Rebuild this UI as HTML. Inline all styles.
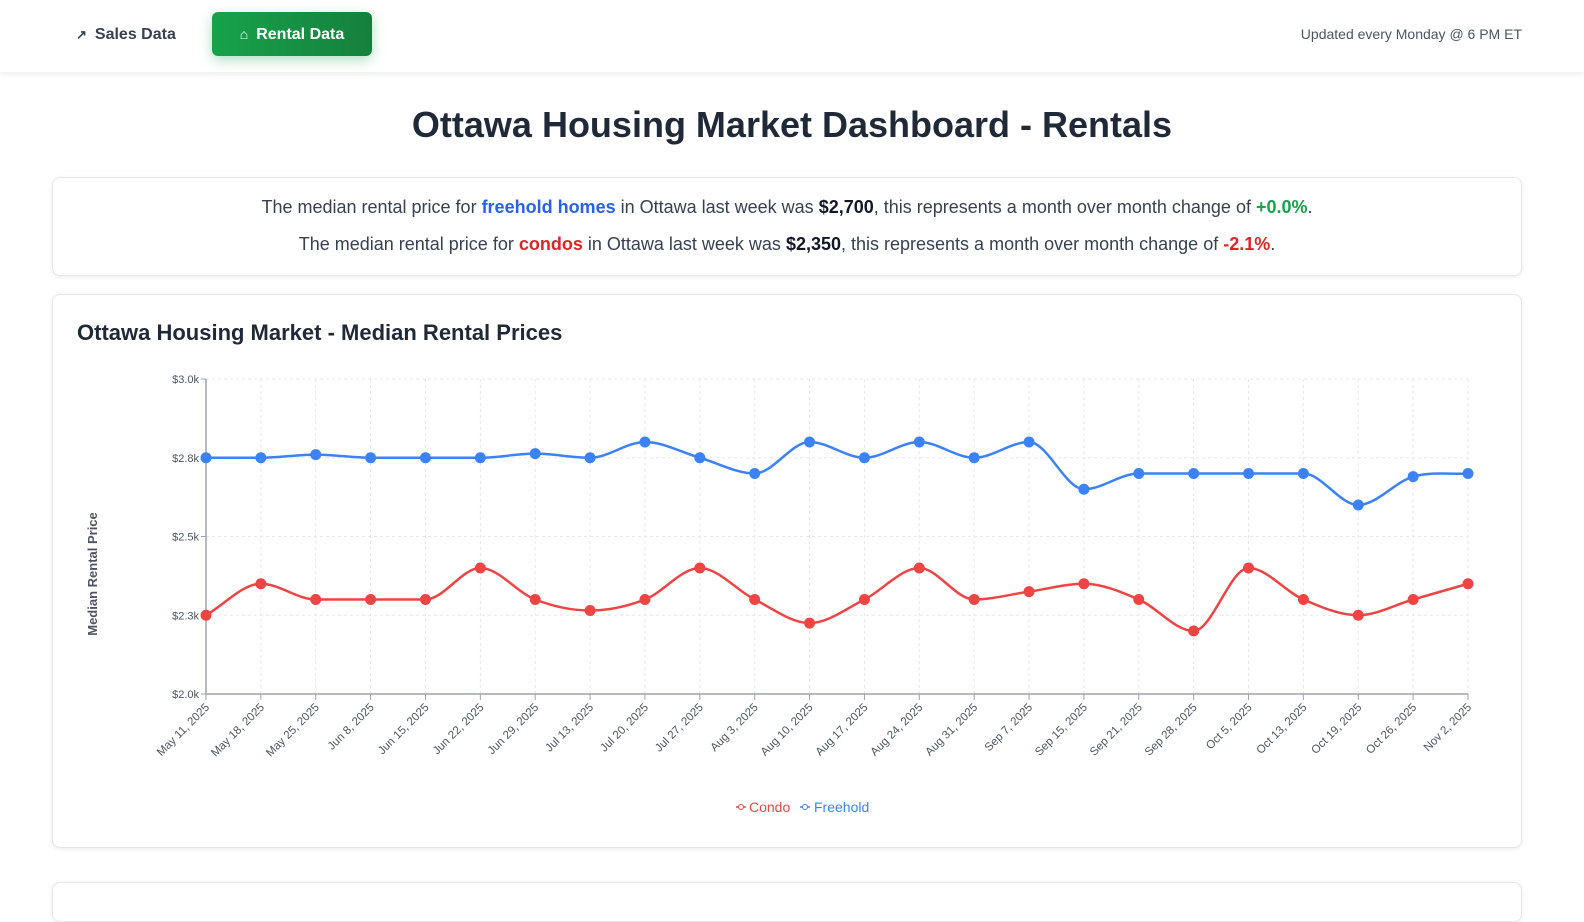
<!DOCTYPE html>
<html><head><meta charset="utf-8">
<style>
*{box-sizing:border-box;margin:0;padding:0}
body{width:1584px;height:900px;overflow:hidden;background:#fff;font-family:"Liberation Sans",Arial,sans-serif;color:#1f2937;position:relative}
.nav{position:absolute;left:0;top:0;width:1584px;height:72px;background:#fff;box-shadow:0 2px 6px rgba(0,0,0,0.08)}
.sales{position:absolute;left:76px;top:26px;font-size:16px;font-weight:bold;color:#374151}
.btn{position:absolute;left:212px;top:12px;width:160px;height:44px;border-radius:6px;background:linear-gradient(90deg,#16a34a,#15803d);color:#fff;font-weight:bold;font-size:16px;line-height:44px;text-align:center;box-shadow:0 4px 12px rgba(22,163,74,0.35)}
.upd{position:absolute;right:62px;top:26px;font-size:14px;color:#4b5563}
h1{position:absolute;left:0;width:1584px;top:104px;text-align:center;font-size:36px;font-weight:bold;color:#1f2937}
.card{position:absolute;left:52px;width:1470px;background:#fff;border:1px solid #e5e7eb;border-radius:8px;box-shadow:0 1px 4px rgba(0,0,0,0.08)}
.c1{top:177px;height:99px;text-align:center;font-size:18px;color:#374151}
.c1 p{position:absolute;left:0;width:100%}
.c2{top:294px;height:554px}
.c3{top:882px;height:40px}
.blue{color:#2563eb;font-weight:bold}.red{color:#dc2626;font-weight:bold}.grn{color:#16a34a;font-weight:bold}b{color:#111827}
.ct{position:absolute;left:24px;top:25px;font-size:22px;font-weight:bold;color:#1f2937}
</style></head><body>
<div class="nav">
<div class="sales"><span style="font-size:13px;margin-right:8px">↗</span>Sales Data</div>
<div class="btn"><span style="font-size:14px;margin-right:8px">⌂</span>Rental Data</div>
<div class="upd">Updated every Monday @ 6 PM ET</div>
</div>
<h1>Ottawa Housing Market Dashboard - Rentals</h1>
<div class="card c1">
<p style="top:19px">The median rental price for <span class="blue">freehold homes</span> in Ottawa last week was <b>$2,700</b>, this represents a month over month change of <span class="grn">+0.0%</span>.</p>
<p style="top:56px">The median rental price for <span class="red">condos</span> in Ottawa last week was <b>$2,350</b>, this represents a month over month change of <span class="red">-2.1%</span>.</p>
</div>
<div class="card c2"><div class="ct">Ottawa Housing Market - Median Rental Prices</div></div>
<div class="card c3"></div>
<svg id="ch" width="1584" height="900" style="position:absolute;left:0;top:0" font-family="Liberation Sans, Arial, sans-serif"></svg>
<script>
var svg=document.getElementById('ch'),h='';
var x0=206,x1=1468,yT=379,yB=694,n=24,dx=(x1-x0)/23;
function Y(v){return yB-(v-2000)/1000*(yB-yT)}
var dates=["May 11, 2025","May 18, 2025","May 25, 2025","Jun 8, 2025","Jun 15, 2025","Jun 22, 2025","Jun 29, 2025","Jul 13, 2025","Jul 20, 2025","Jul 27, 2025","Aug 3, 2025","Aug 10, 2025","Aug 17, 2025","Aug 24, 2025","Aug 31, 2025","Sep 7, 2025","Sep 15, 2025","Sep 21, 2025","Sep 28, 2025","Oct 5, 2025","Oct 13, 2025","Oct 19, 2025","Oct 26, 2025","Nov 2, 2025"];
var F=[2750,2750,2760,2750,2750,2750,2763,2750,2800,2750,2700,2800,2750,2800,2750,2800,2650,2700,2700,2700,2700,2600,2690,2700];
var C=[2250,2350,2300,2300,2300,2400,2300,2265,2300,2400,2300,2225,2300,2400,2300,2325,2350,2300,2200,2400,2300,2250,2300,2350];
[3000,2750,2500,2250,2000].forEach(function(v,i){var y=Y(v);
 h+='<line x1="'+x0+'" x2="'+x1+'" y1="'+y+'" y2="'+y+'" stroke="#e5e7eb" stroke-dasharray="3 3"/>';
 h+='<line x1="'+(x0-5)+'" x2="'+x0+'" y1="'+y+'" y2="'+y+'" stroke="#9ca3af"/>';
 h+='<text x="'+(x0-7)+'" y="'+(y+4)+'" font-size="11" fill="#4b5563" text-anchor="end">'+['$3.0k','$2.8k','$2.5k','$2.3k','$2.0k'][i]+'</text>';});
for(var i=0;i<n;i++){var x=x0+i*dx;
 h+='<line x1="'+x+'" x2="'+x+'" y1="'+yT+'" y2="'+yB+'" stroke="#e5e7eb" stroke-dasharray="3 3"/>';
 h+='<line x1="'+x+'" x2="'+x+'" y1="'+yB+'" y2="'+(yB+6)+'" stroke="#9ca3af"/>';
 h+='<text transform="translate('+(x+4)+','+(yB+14)+') rotate(-45)" font-size="11.5" fill="#4b5563" text-anchor="end">'+dates[i]+'</text>';}
h+='<line x1="'+x0+'" x2="'+x0+'" y1="'+yT+'" y2="'+yB+'" stroke="#9ca3af" stroke-width="1.5"/>';
h+='<line x1="'+x0+'" x2="'+x1+'" y1="'+yB+'" y2="'+yB+'" stroke="#9ca3af" stroke-width="1.5"/>';
function path(d,col){var p=d.map(function(v,i){return[x0+i*dx,Y(v)]});var s='M'+p[0];
 var m=[],k=[];for(var i=0;i<p.length-1;i++)m.push((p[i+1][1]-p[i][1])/dx);
 for(var i=0;i<p.length;i++){if(i==0)k.push(m[0]);else if(i==p.length-1)k.push(m[i-1]);else k.push(m[i-1]*m[i]<=0?0:(m[i-1]+m[i])/2);}
 for(var i=0;i<p.length-1;i++){s+=' C'+(p[i][0]+dx/3)+','+(p[i][1]+k[i]*dx/3)+' '+(p[i+1][0]-dx/3)+','+(p[i+1][1]-k[i+1]*dx/3)+' '+p[i+1];}
 var o='<path d="'+s+'" fill="none" stroke="'+col+'" stroke-width="2.5"/>';
 p.forEach(function(q){o+='<circle cx="'+q[0]+'" cy="'+q[1]+'" r="5.5" fill="'+col+'"/>'});return o;}
h+=path(F,'#3b82f6');h+=path(C,'#ef4444');
h+='<text transform="translate(97,574) rotate(-90)" font-size="13" font-weight="bold" fill="#4b5563" text-anchor="middle">Median Rental Price</text>';
h+='<line x1="736" x2="746" y1="807" y2="807" stroke="#ef4444" stroke-width="1.5"/><circle cx="741" cy="807" r="2.5" fill="#fff" stroke="#ef4444"/>';
h+='<text x="749" y="812" font-size="14" fill="#ef4444">Condo</text>';
h+='<line x1="800" x2="810" y1="807" y2="807" stroke="#3b82f6" stroke-width="1.5"/><circle cx="805" cy="807" r="2.5" fill="#fff" stroke="#3b82f6"/>';
h+='<text x="814" y="812" font-size="14" fill="#3b82f6">Freehold</text>';
svg.innerHTML=h;
</script>
</body></html>
